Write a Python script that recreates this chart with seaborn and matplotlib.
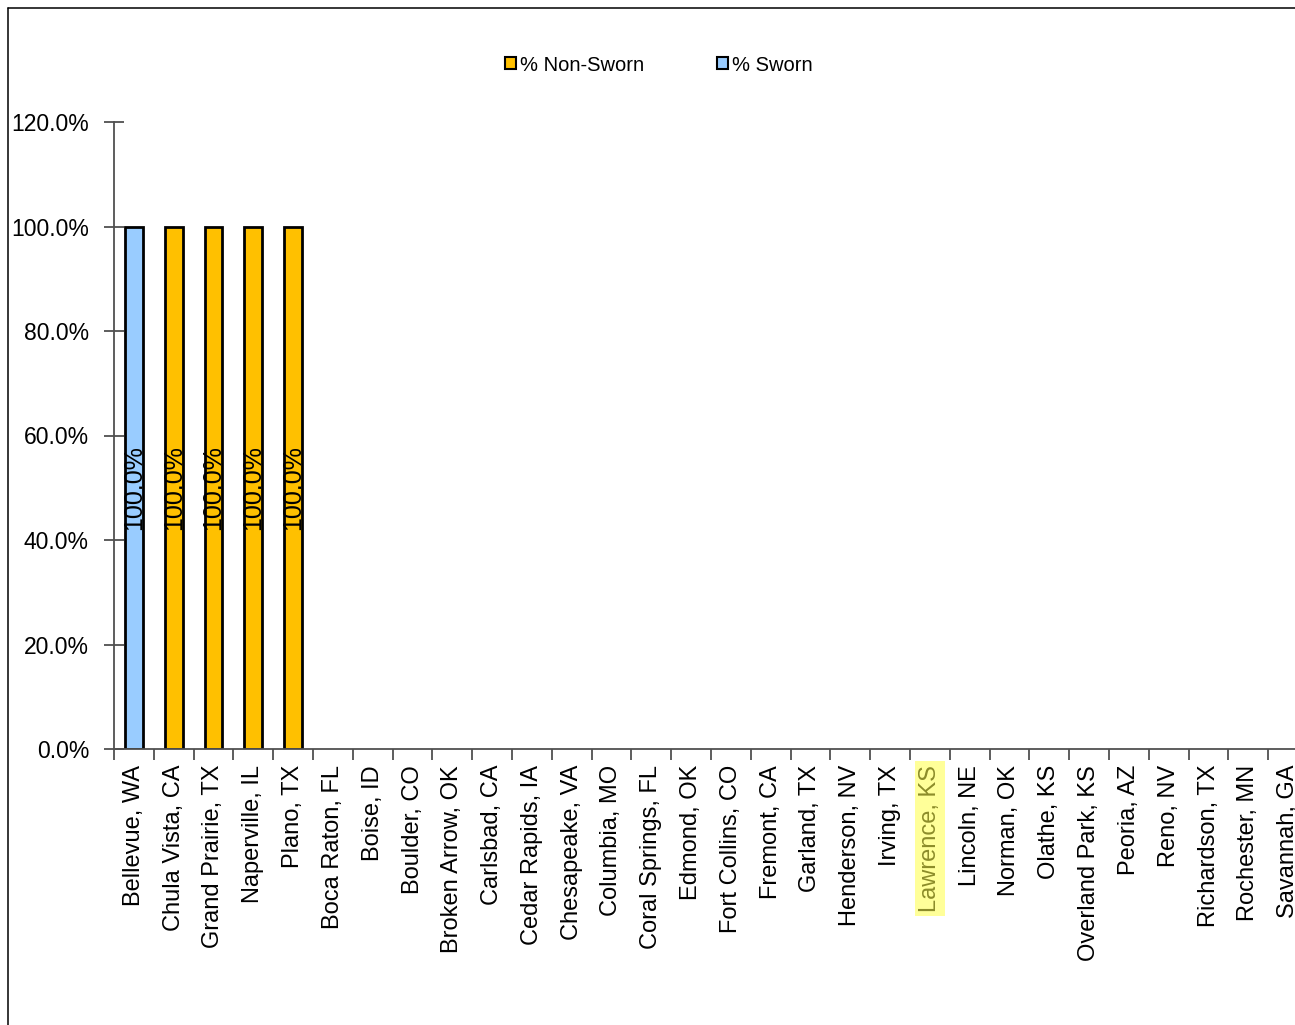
import numpy as np
import pandas as pd
import matplotlib.pyplot as plt
import seaborn as sns
from matplotlib.patches import Patch
from matplotlib.lines import Line2D
from matplotlib.ticker import FuncFormatter

# Cities shown on the category axis (chart is cut off after Savannah, GA)
cities = ['Bellevue, WA', 'Chula Vista, CA', 'Grand Prairie, TX', 'Naperville, IL',
          'Plano, TX', 'Boca Raton, FL', 'Boise, ID', 'Boulder, CO', 'Broken Arrow, OK',
          'Carlsbad, CA', 'Cedar Rapids, IA', 'Chesapeake, VA', 'Columbia, MO',
          'Coral Springs, FL', 'Edmond, OK', 'Fort Collins, CO', 'Fremont, CA',
          'Garland, TX', 'Henderson, NV', 'Irving, TX', 'Lawrence, KS', 'Lincoln, NE',
          'Norman, OK', 'Olathe, KS', 'Overland Park, KS', 'Peoria, AZ', 'Reno, NV',
          'Richardson, TX', 'Rochester, MN', 'Savannah, GA']

# percent values, None = no data for that city
pct_non_sworn = [None, 100.0, 100.0, 100.0, 100.0] + [None] * 25
pct_sworn = [100.0, None, None, None, None] + [None] * 25

series_names = ['% Non-Sworn', '% Sworn']
colors = {'% Non-Sworn': '#FFC000', '% Sworn': '#99CCFF'}
highlight_city = 'Lawrence, KS'

rows = []
for city, ns, sw in zip(cities, pct_non_sworn, pct_sworn):
    if ns is not None:
        rows.append({'City': city, 'Series': '% Non-Sworn', 'Pct': ns})
    if sw is not None:
        rows.append({'City': city, 'Series': '% Sworn', 'Pct': sw})
df = pd.DataFrame(rows)

sns.set_style('white')
plt.rcParams['font.family'] = ['Liberation Sans', 'DejaVu Sans']
plt.rcParams['text.color'] = 'black'
plt.rcParams['xtick.labelcolor'] = 'black'
plt.rcParams['ytick.labelcolor'] = 'black'

W, H = 1295, 1025
fig = plt.figure(figsize=(W / 100, H / 100), dpi=100)
n = len(cities)
cat_px = 39.8
ax = fig.add_axes([114 / W, 1 - 749 / H, n * cat_px / W, (749 - 122) / H])

sns.barplot(data=df, x='City', y='Pct', hue='Series', order=cities,
            hue_order=series_names, palette=colors, dodge=False, width=0.45,
            saturation=1, edgecolor='black', linewidth=2, legend=False, ax=ax)

# value labels in the middle of each bar
for p in ax.patches:
    h = p.get_height()
    if h is None or np.isnan(h) or h == 0:
        continue
    ax.text(p.get_x() + p.get_width() / 2, h / 2, f'{h:.1f}%', rotation=90,
            ha='center', va='center', fontsize=18, color='black')

ax.set_xlim(-0.5, n - 0.5)
ax.set_ylim(0, 120)
ax.set_yticks(np.arange(0, 121, 20))
ax.yaxis.set_major_formatter(FuncFormatter(lambda v, _: f'{v:.1f}%'))
ax.set_xlabel('')
ax.set_ylabel('')

axis_col = '#505050'
for s in ['top', 'right']:
    ax.spines[s].set_visible(False)
for s in ['left', 'bottom']:
    ax.spines[s].set_color(axis_col)
    ax.spines[s].set_linewidth(1.3)

ax.tick_params(axis='y', direction='inout', length=14, width=1.3, color=axis_col,
               labelsize=16.5, pad=11, left=True, labelcolor='black')
ax.set_xticks(np.arange(n))
ax.set_xticklabels(cities, rotation=90, fontsize=17)
ax.set_xticks(np.arange(n) - 0.5, minor=True)
ax.tick_params(axis='x', which='major', length=0, pad=11.5, labelcolor='black')
ax.tick_params(axis='x', which='minor', direction='out', length=8, width=1.3,
               color=axis_col, bottom=True)

for lbl in ax.get_xticklabels():
    if lbl.get_text() == highlight_city:
        lbl.set_color('#8C8C2A')
        lbl.set_bbox(dict(facecolor='#FFFF99', edgecolor='none', pad=3))

handles = [Patch(facecolor=colors[s], edgecolor='black', linewidth=1.5, label=s)
           for s in series_names]
leg = fig.legend(handles=handles, loc='center', bbox_to_anchor=(659 / W, 1 - 65 / H),
                 ncol=2, frameon=False, fontsize=14.5, handlelength=0.55,
                 handleheight=0.55, handletextpad=0.2, columnspacing=3.6)
for t in leg.get_texts():
    t.set_color('black')

# outer chart border (left and top edges visible)
fig.add_artist(Line2D([8 / W, 8 / W], [0, 1 - 8 / H], color='black', lw=1.1,
                      transform=fig.transFigure))
fig.add_artist(Line2D([8 / W, 1], [1 - 8 / H, 1 - 8 / H], color='black', lw=1.1,
                      transform=fig.transFigure))

fig.savefig('out.png', dpi=100)
